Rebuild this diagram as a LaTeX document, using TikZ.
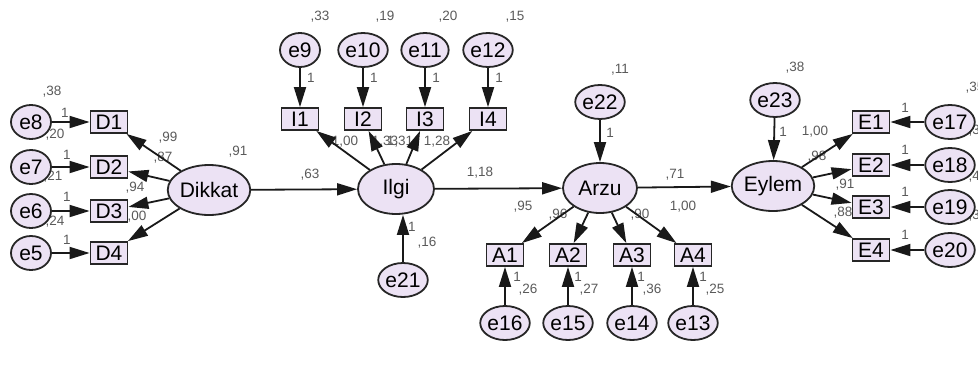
\documentclass[tikz,border=0pt]{standalone}
\usepackage{fontspec}
\setmainfont{Liberation Sans}
\usetikzlibrary{arrows.meta,shapes.geometric}
\definecolor{nodefill}{RGB}{236,226,244}
\definecolor{lblgray}{RGB}{90,90,90}
\tikzset{
  obs/.style={draw=black!85, line width=1.8pt, fill=nodefill, minimum width=37pt, minimum height=22pt, inner sep=0pt, font=\fontsize{21}{21}\selectfont},
  lat/.style={ellipse, draw=black!85, line width=1.8pt, fill=nodefill, minimum width=75pt, minimum height=50pt, inner sep=0pt, font=\fontsize{21}{21}\selectfont},
  err/.style={ellipse, draw=black!85, line width=1.8pt, fill=nodefill, minimum width=40pt, minimum height=34pt, inner sep=0pt, font=\fontsize{21}{21}\selectfont},
  arr/.style={draw=black!90, line width=1.8pt, -{Triangle[length=20pt,width=12pt]}},
  lbl/.style={font=\fontsize{13.5}{14}\selectfont, text=lblgray, inner sep=0pt}
}
\begin{document}
\begin{tikzpicture}[x=1pt,y=-1pt]
\useasboundingbox[fill=white] (0,0) rectangle (978,370);
% labels first (underneath)
\node[lbl] (l1) at (52,92) {,38};
\node[lbl] (l2) at (65,113) {1};
\node[lbl] (l3) at (55,135) {,20};
\node[lbl] (l4) at (67,155) {1};
\node[lbl] (l5) at (53,177) {,21};
\node[lbl] (l6) at (67,197) {1};
\node[lbl] (l7) at (55,222) {,24};
\node[lbl] (l8) at (67,240) {1};
\node[lbl] (l9) at (168,138) {,99};
\node[lbl] (l10) at (163,158) {,87};
\node[lbl] (l11) at (135,188) {,94};
\node[lbl] (l12) at (137,217) {,00};
\node[lbl] (l13) at (238,152) {,91};
\node[lbl] (l14) at (310,175) {,63};
\node[lbl] (l15) at (320,17) {,33};
\node[lbl] (l16) at (385,17) {,19};
\node[lbl] (l17) at (448,17) {,20};
\node[lbl] (l18) at (515,17) {,15};
\node[lbl] (l19) at (311,78) {1};
\node[lbl] (l20) at (374,78) {1};
\node[lbl] (l21) at (436,78) {1};
\node[lbl] (l22) at (499,78) {1};
\node[lbl] (l23) at (345,142) {1,00};
\node[lbl] (l24) at (385,142) {1,33};
\node[lbl] (l25) at (400,142) {1,31};
\node[lbl] (l26) at (437,142) {1,28};
\node[lbl] (l27) at (480,173) {1,18};
\node[lbl] (l28) at (412,227) {1};
\node[lbl] (l29) at (427,243) {,16};
\node[lbl] (l30) at (620,70) {,11};
\node[lbl] (l31) at (610,133) {1};
\node[lbl] (l32) at (675,175) {,71};
\node[lbl] (l33) at (523,207) {,95};
\node[lbl] (l34) at (558,215) {,96};
\node[lbl] (l35) at (640,215) {,90};
\node[lbl] (l36) at (683,207) {1,00};
\node[lbl] (l37) at (517,277) {1};
\node[lbl] (l38) at (528,290) {,26};
\node[lbl] (l39) at (578,277) {1};
\node[lbl] (l40) at (589,290) {,27};
\node[lbl] (l41) at (641,277) {1};
\node[lbl] (l42) at (652,290) {,36};
\node[lbl] (l43) at (703,277) {1};
\node[lbl] (l44) at (715,290) {,25};
\node[lbl] (l45) at (795,68) {,38};
\node[lbl] (l46) at (783,132) {1};
\node[lbl] (l47) at (815,132) {1,00};
\node[lbl] (l48) at (817,157) {,98};
\node[lbl] (l49) at (845,185) {,91};
\node[lbl] (l50) at (843,213) {,88};
\node[lbl] (l51) at (905,108) {1};
\node[lbl] (l52) at (905,150) {1};
\node[lbl] (l53) at (905,192) {1};
\node[lbl] (l54) at (905,235) {1};
\node[lbl] (l55) at (975,88) {,35};
\node[lbl] (l56) at (978,131) {,30};
\node[lbl] (l57) at (978,177) {,46};
\node[lbl] (l58) at (978,216) {,36};
% latent
\node[lat] (dik) at (209,190) {Dikkat};
\node[lat, minimum width=76pt] (ilg) at (396,189) {Ilgi};
\node[lat, minimum width=74pt] (arz) at (600,188) {Arzu};
\node[lat, minimum width=77pt] (eyl) at (773,186) {Eylem};
% observed
\node[obs] (D1) at (109,122) {D1};
\node[obs] (D2) at (109,167) {D2};
\node[obs] (D3) at (109,211) {D3};
\node[obs] (D4) at (109,253) {D4};
\node[obs] (I1) at (300,119) {I1};
\node[obs] (I2) at (363,119) {I2};
\node[obs] (I3) at (425,119) {I3};
\node[obs] (I4) at (488,119) {I4};
\node[obs] (A1) at (505,255) {A1};
\node[obs] (A2) at (568,255) {A2};
\node[obs] (A3) at (632,255) {A3};
\node[obs] (A4) at (693,255) {A4};
\node[obs] (E1) at (871,122) {E1};
\node[obs] (E2) at (871,165) {E2};
\node[obs] (E3) at (871,207) {E3};
\node[obs] (E4) at (871,250) {E4};
% errors
\node[err] (e8) at (31,122) {e8};
\node[err] (e7) at (31,167) {e7};
\node[err] (e6) at (31,211) {e6};
\node[err] (e5) at (31,253) {e5};
\node[err] (e9) at (300,50) {e9};
\node[err] (e10) at (363,50) {e10};
\node[err] (e11) at (425,50) {e11};
\node[err] (e12) at (488,50) {e12};
\node[err] (e21) at (403,280) {e21};
\node[err] (e22) at (600,102) {e22};
\node[err] (e23) at (775,100) {e23};
\node[err] (e16) at (505,323) {e16};
\node[err] (e15) at (568,323) {e15};
\node[err] (e14) at (632,323) {e14};
\node[err] (e13) at (693,323) {e13};
\node[err] (e17) at (950,122) {e17};
\node[err] (e18) at (950,165) {e18};
\node[err] (e19) at (950,207) {e19};
\node[err] (e20) at (950,250) {e20};
% paths
\foreach \e/\d in {e8/D1,e7/D2,e6/D3,e5/D4}{\draw[arr] (\e) -- (\d);}
\foreach \d in {D1,D2,D3,D4}{\draw[arr] (dik) -- (\d);}
\draw[arr] (dik) -- (ilg);
\foreach \e/\d in {e9/I1,e10/I2,e11/I3,e12/I4}{\draw[arr] (\e) -- (\d);}
\foreach \d in {I1,I2,I3,I4}{\draw[arr] (ilg) -- (\d);}
\draw[arr] (e21) -- (e21 |- ilg.south);
\draw[arr] (ilg) -- (arz);
\draw[arr] (e22) -- (arz);
\foreach \d in {A1,A2,A3,A4}{\draw[arr] (arz) -- (\d);}
\foreach \e/\d in {e16/A1,e15/A2,e14/A3,e13/A4}{\draw[arr] (\e) -- (\d);}
\draw[arr] (arz) -- (eyl);
\draw[arr] (e23) -- (eyl);
\foreach \d in {E1,E2,E3,E4}{\draw[arr] (eyl) -- (\d);}
\foreach \e/\d in {e17/E1,e18/E2,e19/E3,e20/E4}{\draw[arr] (\e) -- (\d);}
\end{tikzpicture}
\end{document}
